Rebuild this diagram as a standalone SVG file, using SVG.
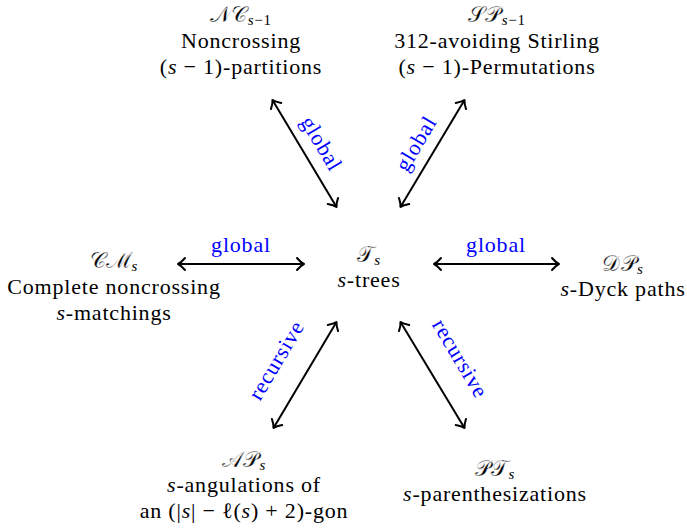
<svg xmlns="http://www.w3.org/2000/svg" width="687" height="528" viewBox="0 0 687 528">
<style>
text { font-family: "Liberation Serif", "Times New Roman", serif; font-size: 22px; fill: #000; text-anchor: middle; letter-spacing: 0.8px; }
.i { font-style: italic; }
.sub { font-size: 15px; }
.cal { stroke: #fff; stroke-width: 0.3px; letter-spacing: 0.3px; }
.lbl { fill: #0000ff; }
.arr { stroke: #000; stroke-width: 2; fill: none; marker-start: url(#ah); marker-end: url(#ah); }
</style>
<defs>
<marker id="ah" markerUnits="userSpaceOnUse" viewBox="-10 -10 20 20" markerWidth="20" markerHeight="20" refX="0" refY="0" orient="auto-start-reverse">
<path d="M -7,-6 C -4,-2.5 -1.5,-0.7 0,0 C -1.5,0.7 -4,2.5 -7,6" fill="none" stroke="#000" stroke-width="2" stroke-linecap="round" stroke-linejoin="round"/>
</marker>
</defs>

<g id="connectors">
<line class="arr" x1="272.5" y1="100" x2="336.5" y2="207"/>
<line class="arr" x1="464.5" y1="100" x2="400.5" y2="207"/>
<line class="arr" x1="178" y1="264" x2="304" y2="264"/>
<line class="arr" x1="434" y1="264" x2="559" y2="264"/>
<line class="arr" x1="336.5" y1="322" x2="273.5" y2="428"/>
<line class="arr" x1="400.5" y1="322" x2="464.5" y2="428"/>
<g transform="translate(305,153.5) rotate(59.2)"><text class="lbl" x="0" y="-12">global</text></g>
<g transform="translate(432.5,153.5) rotate(-59.2)"><text class="lbl" x="0" y="-12">global</text></g>
<text class="lbl" x="241" y="252">global</text>
<text class="lbl" x="496" y="252">global</text>
<g transform="translate(305,375) rotate(-59.2)"><text class="lbl" x="-2" y="-25">recursive</text></g>
<g transform="translate(432.5,375) rotate(59.2)"><text class="lbl" x="0" y="-25">recursive</text></g>
</g>

<g id="nc">
<text x="241" y="22"><tspan class="cal">𝒩𝒞</tspan><tspan class="sub" dy="3"><tspan class="i">s</tspan>−1</tspan></text>
<text x="241" y="48">Noncrossing</text>
<text x="241" y="74">(<tspan class="i">s</tspan> − 1)-partitions</text>
</g>

<g id="sp">
<text x="497" y="22"><tspan class="cal">𝒮𝒫</tspan><tspan class="sub" dy="3"><tspan class="i">s</tspan>−1</tspan></text>
<text x="497" y="48">312-avoiding Stirling</text>
<text x="497" y="74">(<tspan class="i">s</tspan> − 1)-Permutations</text>
</g>

<g id="cm">
<text x="114" y="268"><tspan class="cal">𝒞ℳ</tspan><tspan class="sub i" dy="3">s</tspan></text>
<text x="114" y="294">Complete noncrossing</text>
<text x="114" y="320"><tspan class="i">s</tspan>-matchings</text>
</g>

<g id="t">
<text x="369" y="262"><tspan class="cal">𝒯</tspan><tspan class="sub i" dy="3">s</tspan></text>
<text x="369" y="287"><tspan class="i">s</tspan>-trees</text>
</g>

<g id="dp">
<text x="623" y="271"><tspan class="cal">𝒟𝒫</tspan><tspan class="sub i" dy="3">s</tspan></text>
<text x="623" y="296"><tspan class="i">s</tspan>-Dyck paths</text>
</g>

<g id="ap">
<text x="244" y="467"><tspan class="cal">𝒜𝒫</tspan><tspan class="sub i" dy="3">s</tspan></text>
<text x="244" y="492"><tspan class="i">s</tspan>-angulations of</text>
<text x="244" y="518">an (|<tspan class="i">s</tspan>| − ℓ(<tspan class="i">s</tspan>) + 2)-gon</text>
</g>

<g id="pt">
<text x="495" y="476"><tspan class="cal">𝒫𝒯</tspan><tspan class="sub i" dy="3">s</tspan></text>
<text x="495" y="501"><tspan class="i">s</tspan>-parenthesizations</text>
</g>
</svg>
